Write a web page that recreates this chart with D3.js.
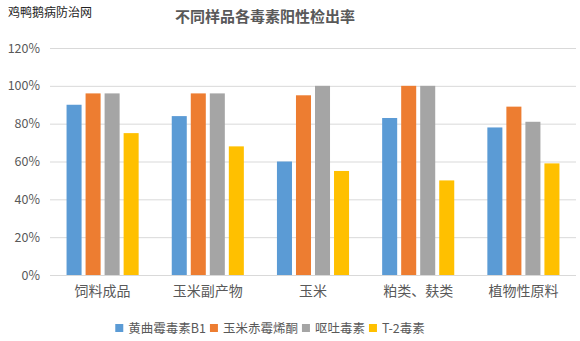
<!DOCTYPE html>
<html><head><meta charset="utf-8">
<script src="https://cdn.jsdelivr.net/npm/d3@7"></script>
<style>body{margin:0;background:#fff}svg{display:block}</style>
</head><body>
<svg id="c" width="580" height="341"></svg>
<script>
const categories = ["饲料成品","玉米副产物","玉米","粕类、麸类","植物性原料"];
const seriesNames = ["黄曲霉毒素B1","玉米赤霉烯酮","呕吐毒素","T-2毒素"];
const aflatoxin = [90,84,60,83,78];
const zearalenone = [96,96,95,100,89];
const don = [96,96,100,100,81];
const t2 = [75,68,55,50,59];
const yTicks = [0,20,40,60,80,100,120];
const colors = ["#5B9BD5","#ED7D31","#A5A5A5","#FFC000"];
const values = [aflatoxin, zearalenone, don, t2];

const svg = d3.select("#c");
const font = "'Noto Sans CJK SC','Microsoft YaHei',sans-serif";
const y = d3.scaleLinear().domain([0,120]).range([275,48]);
const x0 = d3.scaleBand().domain(categories).range([50,576]);
const x1 = d3.scaleBand().domain(d3.range(4)).range([0, x0.bandwidth()]).paddingInner(0.21).paddingOuter(0.87);

svg.append("text").attr("x",8).attr("y",17).attr("font-family",font).attr("font-size",12).attr("fill","#222").text("鸡鸭鹅病防治网");
svg.append("text").attr("x",265).attr("y",22).attr("text-anchor","middle").attr("font-family",font).attr("font-size",15).attr("font-weight","bold").attr("fill","#595959").text("不同样品各毒素阳性检出率");

const yAxis = d3.axisLeft(y).tickValues(yTicks).tickSize(-(576-50)).tickFormat(d=>d+"%");
const ga = svg.append("g").attr("transform","translate(50,0)").call(yAxis);
ga.select(".domain").remove();
ga.selectAll(".tick line").attr("stroke","#d9d9d9").attr("stroke-width",1);
ga.selectAll(".tick text").attr("x",-10).attr("fill","#595959").attr("font-family",font).attr("font-size",12.5);

const g = svg.append("g");
categories.forEach((c,i)=>{
  values.forEach((arr,s)=>{
    g.append("rect").attr("x",x0(c)+x1(s)).attr("width",x1.bandwidth())
     .attr("y",y(arr[i])).attr("height",y(0)-y(arr[i])).attr("fill",colors[s]);
  });
});
svg.append("line").attr("x1",50).attr("x2",576).attr("y1",y(0)+0.5).attr("y2",y(0)+0.5).attr("stroke","#d9d9d9");

const xAxis = d3.axisBottom(x0).tickSize(0);
const gx = svg.append("g").attr("transform",`translate(0,${y(0)})`).call(xAxis);
gx.select(".domain").remove();
gx.selectAll(".tick text").attr("dy",0).attr("y",21).attr("fill","#595959").attr("font-family",font).attr("font-size",14);

// legend
const lg = svg.append("g");
let lx = 0;
seriesNames.forEach((n,s)=>{
  lg.append("rect").attr("x",lx).attr("y",324).attr("width",8).attr("height",8).attr("fill",colors[s]);
  const t = lg.append("text").attr("x",lx+13).attr("y",333).attr("font-family",font).attr("font-size",12.5).attr("fill","#595959").text(n);
  lx += 13 + t.node().getComputedTextLength() + 4;
});
lg.attr("transform",`translate(${270 - (lx-4)/2},0)`);
</script>
</body></html>
